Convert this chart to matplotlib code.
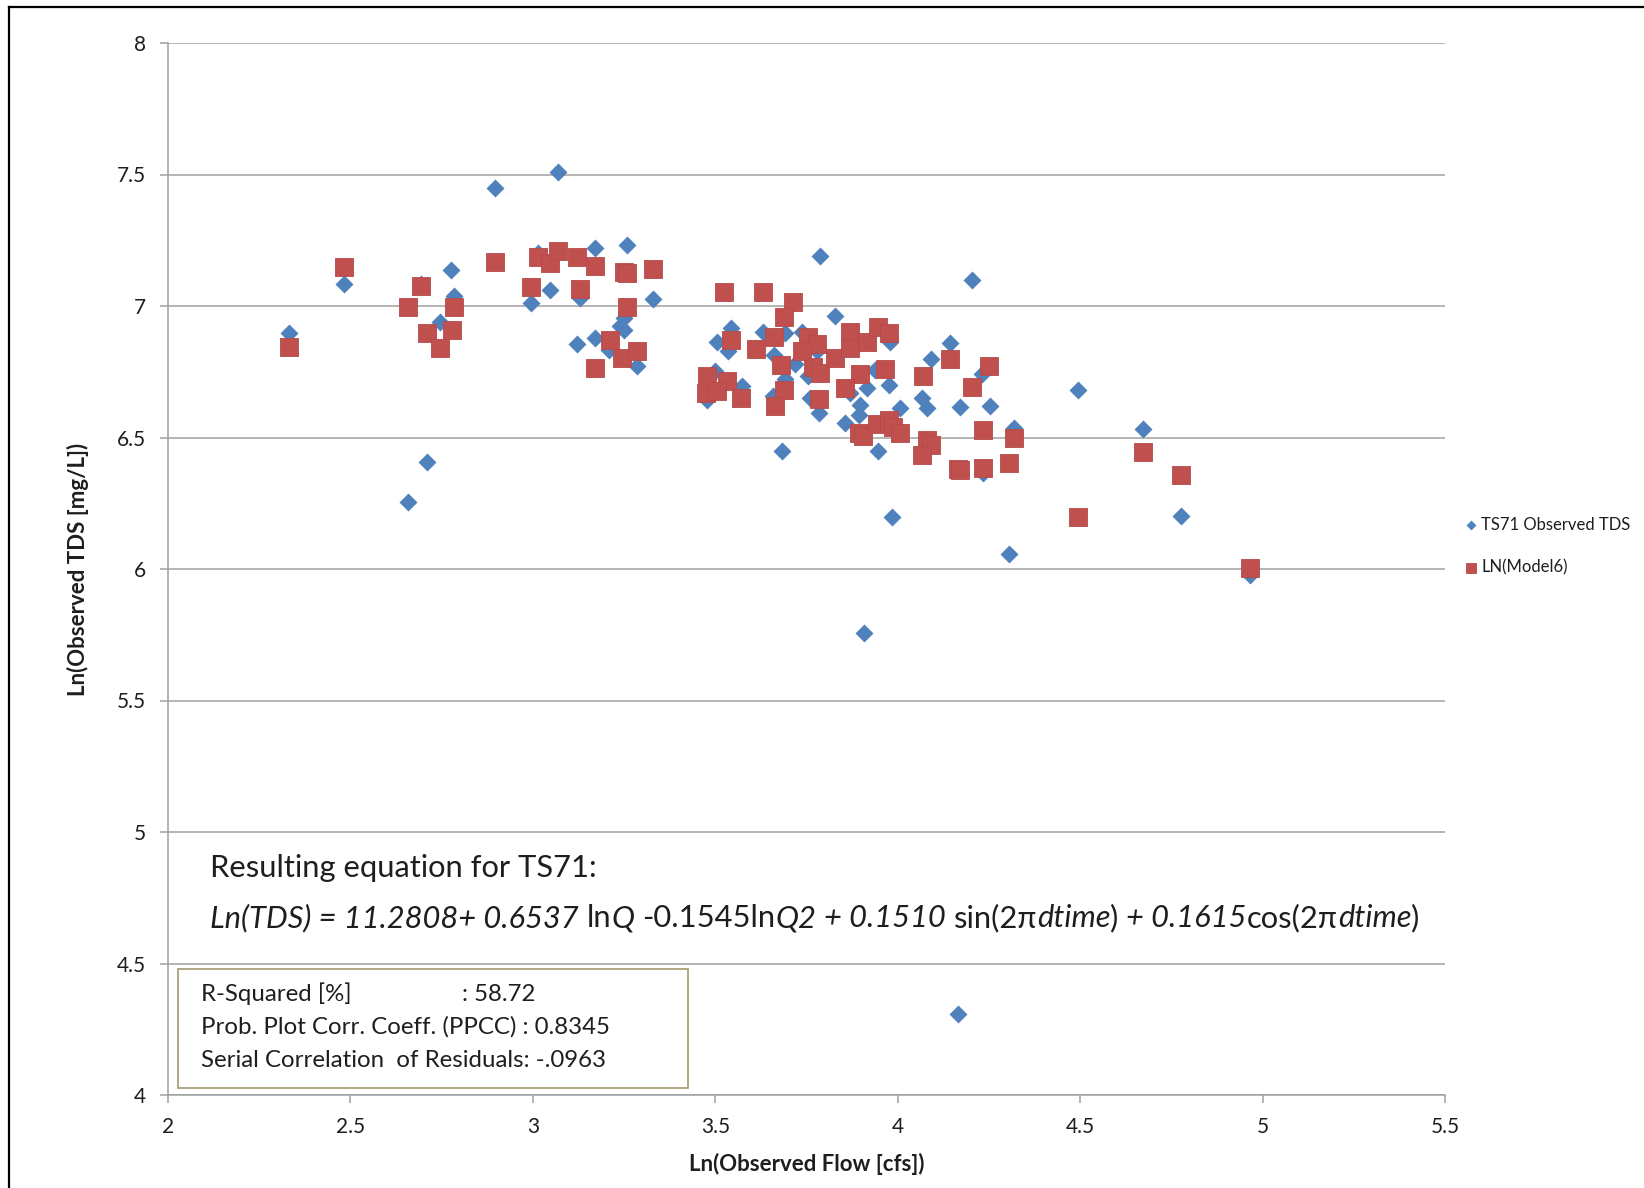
import matplotlib
matplotlib.use("Agg")
import matplotlib.pyplot as plt
from matplotlib.lines import Line2D
from matplotlib.patches import Rectangle
from matplotlib.transforms import IdentityTransform

plt.rcParams['font.family'] = ['Lato', 'DejaVu Sans']

# TS71 observed TDS (blue diamonds)
obs_x = [2.332, 2.483, 2.659, 2.709, 2.694, 2.746, 2.776, 2.785, 2.896, 3.070,
         2.994, 3.013, 3.047, 3.128, 3.170, 3.257, 3.330, 3.120, 3.170, 3.209,
         3.251, 3.251, 3.240, 3.285,
         3.787, 4.203, 3.829, 3.543, 3.504, 3.536, 3.630, 3.691, 3.737, 3.661,
         3.719, 3.755, 3.778, 3.499, 3.573, 3.477, 3.691, 3.659, 3.760, 3.783,
         3.979, 3.938, 3.977, 3.915, 3.870, 3.897, 3.893, 3.855, 4.006, 3.682,
         3.947, 3.985, 3.908, 4.142, 4.092, 4.230, 4.066, 4.079, 4.170, 4.252,
         4.319, 4.233, 4.306, 4.164, 4.495, 4.672, 4.777, 4.965]
obs_y = [6.899, 7.083, 6.254, 6.406, 7.085, 6.941, 7.138, 7.039, 7.448, 7.508,
         7.013, 7.200, 7.062, 7.030, 7.220, 7.233, 7.026, 6.856, 6.878, 6.833,
         6.954, 6.909, 6.925, 6.770,
         7.191, 7.100, 6.963, 6.916, 6.865, 6.827, 6.903, 6.897, 6.903, 6.814,
         6.780, 6.732, 6.827, 6.751, 6.694, 6.643, 6.722, 6.656, 6.650, 6.593,
         6.865, 6.757, 6.700, 6.688, 6.669, 6.624, 6.586, 6.557, 6.612, 6.447,
         6.447, 6.196, 5.756, 6.861, 6.798, 6.742, 6.650, 6.612, 6.615, 6.618,
         6.536, 6.364, 6.057, 4.308, 6.679, 6.533, 6.203, 5.978]

# LN(Model6) (red squares)
mod_x = [2.332, 2.483, 2.659, 2.694, 2.709, 2.746, 2.778, 2.785, 2.895, 2.994,
         3.013, 3.047, 3.070, 3.120, 3.128, 3.170, 3.170, 3.212, 3.245, 3.251,
         3.257, 3.257, 3.285, 3.330,
         3.525, 3.632, 3.714, 3.688, 3.543, 3.612, 3.661, 3.755, 3.778, 3.737,
         3.680, 3.769, 3.787, 3.829, 3.870, 3.870, 3.915, 3.947, 3.977, 3.965,
         3.897, 3.855, 3.477, 3.475, 3.533, 3.504, 3.570, 3.688, 3.664, 3.783,
         3.893, 3.904, 3.943, 3.977, 3.986, 4.005, 4.142, 4.251, 4.070, 4.203,
         4.319, 4.233, 4.080, 4.092, 4.066, 4.166, 4.172, 4.233, 4.306, 4.493,
         4.672, 4.777, 4.965]
mod_y = [6.846, 7.148, 6.998, 7.077, 6.899, 6.840, 6.909, 6.998, 7.168, 7.074,
         7.188, 7.163, 7.211, 7.186, 7.064, 7.153, 6.766, 6.871, 6.804, 7.131,
         7.127, 6.998, 6.830, 7.141,
         7.053, 7.055, 7.015, 6.959, 6.872, 6.836, 6.884, 6.883, 6.857, 6.829,
         6.776, 6.767, 6.745, 6.802, 6.903, 6.840, 6.863, 6.921, 6.896, 6.762,
         6.740, 6.688, 6.733, 6.671, 6.713, 6.675, 6.650, 6.681, 6.618, 6.646,
         6.517, 6.505, 6.552, 6.567, 6.539, 6.518, 6.798, 6.773, 6.734, 6.692,
         6.497, 6.528, 6.491, 6.470, 6.434, 6.380, 6.378, 6.385, 6.402, 6.199,
         6.444, 6.358, 6.005]

x_ticks = [2, 2.5, 3, 3.5, 4, 4.5, 5, 5.5]
x_tick_labels = ['2', '2.5', '3', '3.5', '4', '4.5', '5', '5.5']
y_ticks = [4, 4.5, 5, 5.5, 6, 6.5, 7, 7.5, 8]
y_tick_labels = ['4', '4.5', '5', '5.5', '6', '6.5', '7', '7.5', '8']

W, H = 1644, 1188
fig = plt.figure(figsize=(W / 100, H / 100), dpi=100)
ax = fig.add_axes([168 / W, 93 / H, 1277 / W, 1052 / H])

grey = '#A0A0A0'
txt = '#1E1E1E'

ax.scatter(obs_x, obs_y, marker='D', s=84, color='#4F81BD', linewidths=0,
           label='TS71 Observed TDS', zorder=3)
ax.scatter(mod_x, mod_y, marker='s', s=155, color='#C0504D', edgecolors='#B5494A',
           linewidths=0.6, label='LN(Model6)', zorder=4)

ax.set_xlim(2, 5.5)
ax.set_ylim(4, 8)
ax.set_xticks(x_ticks)
ax.set_xticklabels(x_tick_labels)
ax.set_yticks(y_ticks)
ax.set_yticklabels(y_tick_labels)
ax.yaxis.grid(True, color=grey, lw=1.1)
ax.set_axisbelow(True)
for side in ['top', 'right']:
    ax.spines[side].set_visible(False)
for side in ['left', 'bottom']:
    ax.spines[side].set_color(grey)
    ax.spines[side].set_linewidth(1.1)
ax.tick_params(direction='out', length=6, width=1.1, color=grey, labelsize=15,
               labelcolor=txt, pad=10)

ax.set_xlabel('Ln(Observed Flow [cfs])', fontsize=16, fontweight='bold', color=txt, labelpad=11)
ax.set_ylabel('Ln(Observed TDS [mg/L])', fontsize=16, fontweight='bold', color=txt, labelpad=20)

leg = fig.legend(loc='center left', bbox_to_anchor=(1466 / W, 1 - 546 / H), frameon=False,
                 fontsize=12, markerscale=0.55, handlelength=0.6, handletextpad=0.3,
                 labelspacing=1.6, borderpad=0, borderaxespad=0)
for t in leg.get_texts():
    t.set_color(txt)

# equation text, written piece by piece to mix italic and upright
renderer = fig.canvas.get_renderer()


def width_of(s, size, style):
    t = fig.text(0, 0, s, fontsize=size, style=style, transform=IdentityTransform())
    w = t.get_window_extent(renderer).width
    t.remove()
    return w


def text_run(x, y, pieces, size):
    sp = width_of('a a', size, 'normal') - width_of('aa', size, 'normal')
    for s, it in pieces:
        lead = len(s) - len(s.lstrip(' '))
        trail = len(s) - len(s.rstrip(' '))
        x += lead * sp
        core = s.strip(' ')
        t = fig.text(x, y, core, fontsize=size, style='italic' if it else 'normal',
                     color=txt, transform=IdentityTransform(), va='baseline', ha='left')
        x += t.get_window_extent(renderer).width + trail * sp
    return x


fig.text(210, H - 877, 'Resulting equation for TS71:', fontsize=22.2, color=txt,
         transform=IdentityTransform(), va='baseline')
eq = [('Ln(TDS) = 11.2808+ 0.6537', True), (' ln', False), ('Q', True),
      (' -0.1545ln', False), ('Q2', True), (' + 0.1510', True), (' sin(2π', False),
      ('dtime', True), (')', False), (' + 0.1615', True), ('cos(2π', False),
      ('dtime', True), (')', False)]
text_run(210, H - 927, eq, 22.2)

# statistics box
fig.add_artist(Rectangle((178, H - 1088), 510, 119, transform=IdentityTransform(),
                         facecolor='white', edgecolor='#A39A6E', lw=1.2, zorder=5))
stats = ['R-Squared [%]', 'Prob. Plot Corr. Coeff. (PPCC) : 0.8345',
         'Serial Correlation  of Residuals: -.0963']
for i, s in enumerate(stats):
    fig.text(201, H - 1001 - 33 * i, s, fontsize=17.3, color=txt, zorder=6,
             transform=IdentityTransform(), va='baseline')
fig.text(462, H - 1001, ': 58.72', fontsize=17.3, color=txt, zorder=6,
         transform=IdentityTransform(), va='baseline')

# outer frame (cut off on the right and bottom)
fig.add_artist(Line2D([8.5 / W, 8.5 / W], [0, 1 - 6.5 / H], color='black', lw=1.6))
fig.add_artist(Line2D([8.5 / W, 1], [1 - 6.5 / H, 1 - 6.5 / H], color='black', lw=1.6))

fig.savefig('out.png', dpi=100)
